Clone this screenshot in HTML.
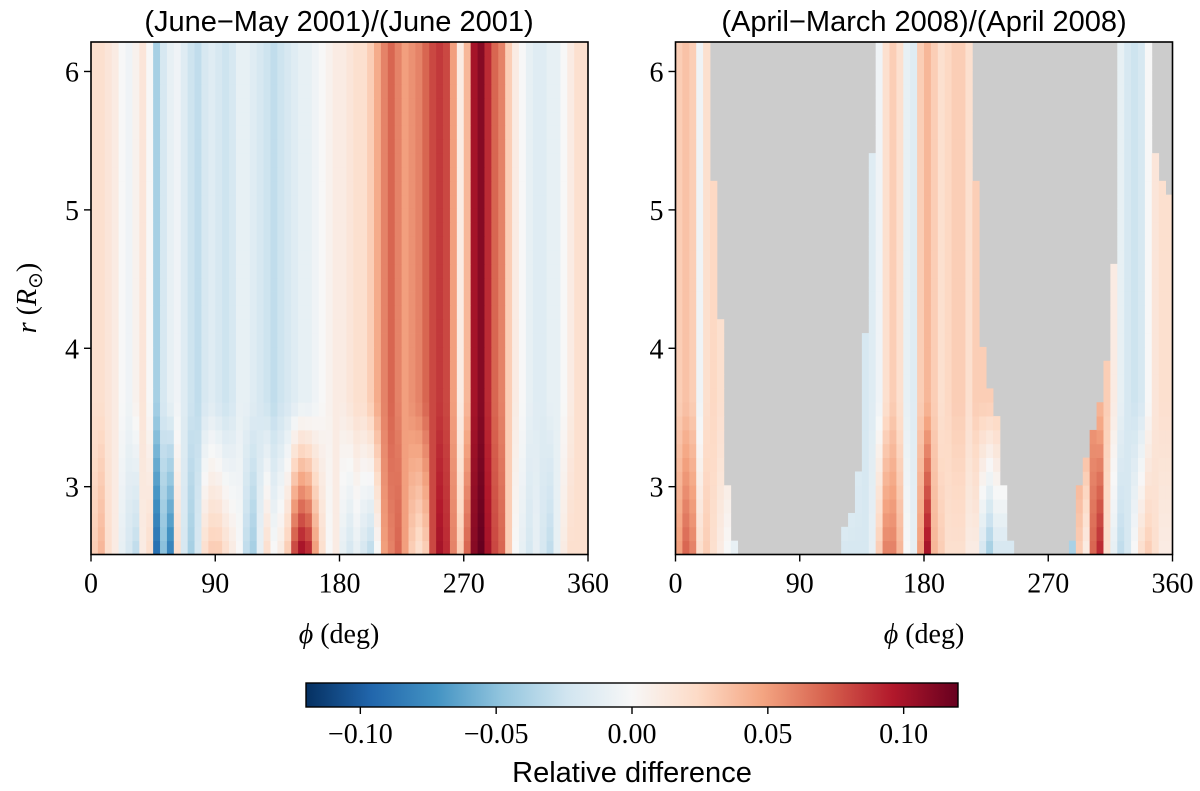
<!DOCTYPE html>
<html><head><meta charset="utf-8"><style>
html,body{margin:0;padding:0;background:#fff;}
svg{display:block;}
.tk{font-family:"Liberation Serif",serif;font-size:28px;fill:#000;}
.tt{font-family:"Liberation Sans",sans-serif;font-size:29px;fill:#000;}
</style></head><body>
<svg id="fig" width="1200" height="791" viewBox="0 0 1200 791" xmlns="http://www.w3.org/2000/svg">
<defs><linearGradient id="cbg" x1="0" x2="1" y1="0" y2="0"></linearGradient></defs>
<g id="left"></g>
<g id="right"></g>
<text class="tt" x="339" y="31" text-anchor="middle">(June−May 2001)/(June 2001)</text>
<text class="tt" x="924" y="31" text-anchor="middle">(April−March 2008)/(April 2008)</text>
<text class="tk" x="339" y="643" text-anchor="middle" font-size="30"><tspan font-style="italic">ϕ</tspan> (deg)</text>
<text class="tk" x="924" y="643" text-anchor="middle" font-size="30"><tspan font-style="italic">ϕ</tspan> (deg)</text>
<text class="tk" transform="translate(36,298) rotate(-90)" text-anchor="middle" font-size="32"><tspan font-style="italic">r</tspan> (<tspan font-style="italic">R</tspan><tspan font-size="20" dy="6">⊙</tspan><tspan dy="-6">)</tspan></text>
<g id="cbar"></g>
<text class="tt" x="632" y="782" text-anchor="middle" font-size="31">Relative difference</text>
</svg>
<script>
// ---- data (5-degree phi bins, centers 2.5..357.5) ----
const phiCenters = Array.from({length:72},(_,i)=>i*5+2.5);
const leftUpper = [.02,.02,.015,.01,0,-.005,.005,.015,0,-.04,-.02,-.01,-.005,-.015,-.025,-.03,-.02,-.015,-.02,-.025,-.02,-.01,-.01,-.015,-.02,-.025,-.03,-.025,-.02,-.015,-.01,-.01,-.005,0,.005,.01,.01,.015,.02,.02,.03,.045,.06,.07,.06,.05,.055,.06,.07,.08,.085,.08,.05,.01,.04,.1,.11,.09,.07,.06,.03,.01,0,-.01,-.015,-.015,-.01,-.01,0,.01,.02,.02];
const leftLower = [.03,.04,.02,.01,-.01,-.02,-.03,.01,.02,-.09,-.05,-.08,.02,-.02,-.04,-.02,.02,.03,.03,.02,.01,0,-.03,-.04,-.01,.02,0,.01,.03,.08,.1,.09,.05,.02,0,.01,-.01,-.02,-.01,-.02,-.03,0,.05,.06,.07,.05,.03,.02,.03,.08,.1,.09,.06,.03,.07,.11,.12,.1,.08,.07,.03,0,-.01,-.02,-.01,-.02,-.03,-.01,.01,.02,.02,.02];
const rightUpper = [.03,.035,.03,-.005,.02,.025,.02,.02,.02,0,0,0,0,0,0,0,0,0,0,0,0,0,0,0,0,-.01,-.015,-.02,-.015,-.005,.02,.03,.02,-.01,-.015,.03,.04,.03,.02,.025,.03,.03,.02,.03,.03,.03,.03,.03,.03,0,0,0,0,0,0,0,.04,.04,.05,.05,.05,.04,.03,.01,-.01,-.02,-.025,-.02,0,.015,.02,.02];
const rightLower = [.05,.07,.06,.02,.03,.02,.01,0,-.01,0,0,0,0,0,0,0,0,0,0,0,0,0,0,-.02,-.02,-.02,-.02,-.02,-.01,.03,.06,.06,.04,0,-.01,.05,.1,.04,.03,.02,.02,.02,.01,.01,-.02,-.04,-.02,-.02,-.02,0,0,0,0,0,0,0,.02,-.04,.03,.01,.07,.09,.02,-.01,-.03,-.02,0,.02,.03,.02,.01,.01];
// right-panel valid-data region edges (deg) at radius knots
const maskR  = [2.5,3,3.5,4,4.5,5,5.5,6.2];
const edge1  = [44,37,35,34,31,28,27,26];
const edge2L = [118,132,134,137,139,141,143,145];
const edge2R = [244,238,233,222,220,218,217,216];
const edge3L = [286,292,305,314,317,320,321,322];
const edge3R = [360,360,360,360,360,360,345,345];
const xTicks = [0,90,180,270,360];
const yTicks = [3,4,5,6];
const cbTicks = [-0.10,-0.05,0.00,0.05,0.10];
const cbLabels = ["−0.10","−0.05","0.00","0.05","0.10"];
// ---- layout ----
const NS="http://www.w3.org/2000/svg";
const rMin=2.51,rMax=6.213,vmin=-0.12,vmax=0.12;
const yTop=42,yBot=554.5,W=497;
const panels=[{g:'left',x0:91,up:leftUpper,lo:leftLower,mask:false},{g:'right',x0:675.5,up:rightUpper,lo:rightLower,mask:true}];
const stops=['#053061','#2166ac','#4393c3','#92c5de','#d1e5f0','#f7f7f7','#fddbc7','#f4a582','#d6604d','#b2182b','#67001f'];
function hex(h){return [1,3,5].map(i=>parseInt(h.substr(i,2),16));}
const sc=stops.map(hex);
function cmap(v){let t=(v-vmin)/(vmax-vmin);t=Math.max(0,Math.min(1,t))*(sc.length-1);const i=Math.min(Math.floor(t),sc.length-2),f=t-i;
 const c=sc[i].map((a,k)=>Math.round(a+(sc[i+1][k]-a)*f));return `rgb(${c[0]},${c[1]},${c[2]})`;}
function interp(xs,ys,x){if(x<=xs[0])return ys[0];for(let i=1;i<xs.length;i++){if(x<=xs[i]){const f=(x-xs[i-1])/(xs[i]-xs[i-1]);return ys[i-1]+(ys[i]-ys[i-1])*f;}}return ys[ys.length-1];}
function mk(tag,attrs,parent){const e=document.createElementNS(NS,tag);for(const k in attrs)e.setAttribute(k,attrs[k]);parent.appendChild(e);return e;}
const dr=0.1;
panels.forEach(p=>{
 const g=document.getElementById(p.g);
 const xs=phi=>p.x0+phi/360*W;
 const ys=r=>yBot-(r-rMin)/(rMax-rMin)*(yBot-yTop);
 mk('rect',{x:p.x0,y:yTop,width:W,height:yBot-yTop,fill:p.mask?'#cccccc':'#f7f7f7'},g);
 const hm=mk('g',{},g);
 
 
 for(let r=rMin;r<rMax-1e-6;r+=dr){
  const rc=r+dr/2;
  const w=Math.max(0,Math.min(1,(rc-2.55)/(3.6-2.55)));
  phiCenters.forEach((ph,i)=>{
   if(p.mask){
    const e1=interp(maskR,edge1,rc),a=interp(maskR,edge2L,rc),b=interp(maskR,edge2R,rc),c=interp(maskR,edge3L,rc),d=interp(maskR,edge3R,rc);
    const ok=ph<e1||(ph>a&&ph<b)||(ph>c&&ph<d);
    if(!ok)return;
   }
   const v=p.lo[i]*(1-w)+p.up[i]*w;
   const y1=ys(Math.min(r+dr,rMax)),y0=ys(r);
   const el=mk('rect',{x:xs(ph-2.5).toFixed(2),y:y1.toFixed(2),width:(W/72+0.4).toFixed(2),height:(y0-y1+0.4).toFixed(2),fill:cmap(v)},hm);
   
   
  });
 }
 mk('rect',{x:p.x0,y:yTop,width:W,height:yBot-yTop,fill:'none',stroke:'#000','stroke-width':1.6},g);
 xTicks.forEach(t=>{const x=xs(t);mk('line',{x1:x,x2:x,y1:yBot,y2:yBot+7,stroke:'#000','stroke-width':1.4},g);
  const tx=mk('text',{x:x,y:yBot+38,'text-anchor':'middle',class:'tk'},g);tx.textContent=t;
  
  });
 yTicks.forEach(t=>{const y=ys(t);mk('line',{x1:p.x0-7,x2:p.x0,y1:y,y2:y,stroke:'#000','stroke-width':1.4},g);
  const tx=mk('text',{x:p.x0-12,y:y+10,'text-anchor':'end',class:'tk'},g);tx.textContent=t;
  
  });
});
// colorbar
const grad=document.getElementById('cbg');
stops.forEach((s,i)=>mk('stop',{offset:(i/(stops.length-1)),'stop-color':s},grad));
const cb=document.getElementById('cbar');
const cx0=306,cx1=958,cy0=683,cy1=707;
mk('rect',{x:cx0,y:cy0,width:cx1-cx0,height:cy1-cy0,fill:'url(#cbg)',stroke:'#000','stroke-width':1.4},cb);
const cxs=v=>cx0+(v-vmin)/(vmax-vmin)*(cx1-cx0);
cbTicks.forEach((t,i)=>{const x=cxs(t);mk('line',{x1:x,x2:x,y1:cy1,y2:cy1+7,stroke:'#000','stroke-width':1.4},cb);
 const tx=mk('text',{x:x,y:cy1+36,'text-anchor':'middle',class:'tk'},cb);tx.textContent=cbLabels[i];
 
 });
</script>
</body></html>
